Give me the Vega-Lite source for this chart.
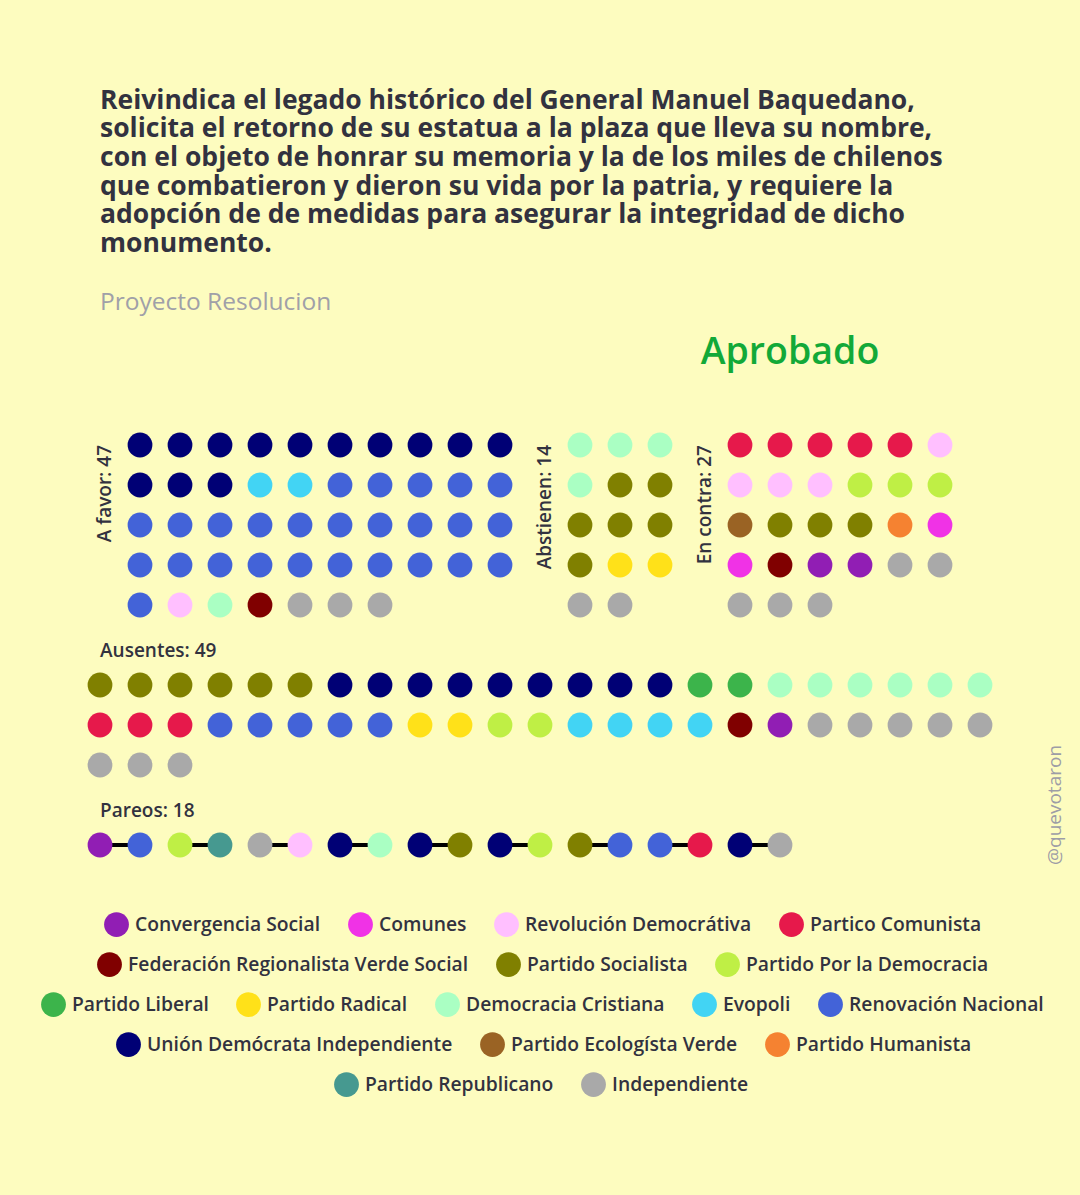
{
  "$schema": "https://vega.github.io/schema/vega-lite/v6.json",
  "width": 1080,
  "height": 870,
  "autosize": "none",
  "padding": {"top": 325, "left": 0, "right": 0, "bottom": 0},
  "background": "#fdfcbf",
  "config": {
    "view": {"stroke": null},
    "font": "Open Sans",
    "legend": {
      "orient": "none",
      "direction": "horizontal",
      "title": null,
      "padding": 0,
      "symbolType": "circle",
      "symbolSize": 615,
      "symbolStrokeWidth": 0,
      "symbolOpacity": 1,
      "labelFont": "Open Sans",
      "labelFontSize": 19.3,
      "labelFontWeight": 600,
      "labelColor": "#32323f",
      "labelOffset": 6,
      "labelLimit": 0,
      "columnPadding": 27
    }
  },
  "title": {
    "text": [
      "Reivindica el legado histórico del General Manuel Baquedano,",
      "solicita el retorno de su estatua a la plaza que lleva su nombre,",
      "con el objeto de honrar su memoria y la de los miles de chilenos",
      "que combatieron y dieron su vida por la patria, y requiere la",
      "adopción de de medidas para asegurar la integridad de dicho",
      "monumento."
    ],
    "subtitle": "Proyecto Resolucion",
    "anchor": "start",
    "frame": "group",
    "dx": 100,
    "font": "Open Sans",
    "fontSize": 26.5,
    "fontWeight": "bold",
    "color": "#32323f",
    "lineHeight": 28.7,
    "subtitleFont": "Open Sans",
    "subtitleFontSize": 24.5,
    "subtitleColor": "#a0a0a8",
    "subtitlePadding": 33,
    "offset": 11
  },
  "datasets": {
    "escanos": [
      {"grupo": "A favor", "col": 1, "fila": 0, "partido": "Unión Demócrata Independiente"},
      {"grupo": "A favor", "col": 2, "fila": 0, "partido": "Unión Demócrata Independiente"},
      {"grupo": "A favor", "col": 3, "fila": 0, "partido": "Unión Demócrata Independiente"},
      {"grupo": "A favor", "col": 4, "fila": 0, "partido": "Unión Demócrata Independiente"},
      {"grupo": "A favor", "col": 5, "fila": 0, "partido": "Unión Demócrata Independiente"},
      {"grupo": "A favor", "col": 6, "fila": 0, "partido": "Unión Demócrata Independiente"},
      {"grupo": "A favor", "col": 7, "fila": 0, "partido": "Unión Demócrata Independiente"},
      {"grupo": "A favor", "col": 8, "fila": 0, "partido": "Unión Demócrata Independiente"},
      {"grupo": "A favor", "col": 9, "fila": 0, "partido": "Unión Demócrata Independiente"},
      {"grupo": "A favor", "col": 10, "fila": 0, "partido": "Unión Demócrata Independiente"},
      {"grupo": "A favor", "col": 1, "fila": 1, "partido": "Unión Demócrata Independiente"},
      {"grupo": "A favor", "col": 2, "fila": 1, "partido": "Unión Demócrata Independiente"},
      {"grupo": "A favor", "col": 3, "fila": 1, "partido": "Unión Demócrata Independiente"},
      {"grupo": "A favor", "col": 4, "fila": 1, "partido": "Evopoli"},
      {"grupo": "A favor", "col": 5, "fila": 1, "partido": "Evopoli"},
      {"grupo": "A favor", "col": 6, "fila": 1, "partido": "Renovación Nacional"},
      {"grupo": "A favor", "col": 7, "fila": 1, "partido": "Renovación Nacional"},
      {"grupo": "A favor", "col": 8, "fila": 1, "partido": "Renovación Nacional"},
      {"grupo": "A favor", "col": 9, "fila": 1, "partido": "Renovación Nacional"},
      {"grupo": "A favor", "col": 10, "fila": 1, "partido": "Renovación Nacional"},
      {"grupo": "A favor", "col": 1, "fila": 2, "partido": "Renovación Nacional"},
      {"grupo": "A favor", "col": 2, "fila": 2, "partido": "Renovación Nacional"},
      {"grupo": "A favor", "col": 3, "fila": 2, "partido": "Renovación Nacional"},
      {"grupo": "A favor", "col": 4, "fila": 2, "partido": "Renovación Nacional"},
      {"grupo": "A favor", "col": 5, "fila": 2, "partido": "Renovación Nacional"},
      {"grupo": "A favor", "col": 6, "fila": 2, "partido": "Renovación Nacional"},
      {"grupo": "A favor", "col": 7, "fila": 2, "partido": "Renovación Nacional"},
      {"grupo": "A favor", "col": 8, "fila": 2, "partido": "Renovación Nacional"},
      {"grupo": "A favor", "col": 9, "fila": 2, "partido": "Renovación Nacional"},
      {"grupo": "A favor", "col": 10, "fila": 2, "partido": "Renovación Nacional"},
      {"grupo": "A favor", "col": 1, "fila": 3, "partido": "Renovación Nacional"},
      {"grupo": "A favor", "col": 2, "fila": 3, "partido": "Renovación Nacional"},
      {"grupo": "A favor", "col": 3, "fila": 3, "partido": "Renovación Nacional"},
      {"grupo": "A favor", "col": 4, "fila": 3, "partido": "Renovación Nacional"},
      {"grupo": "A favor", "col": 5, "fila": 3, "partido": "Renovación Nacional"},
      {"grupo": "A favor", "col": 6, "fila": 3, "partido": "Renovación Nacional"},
      {"grupo": "A favor", "col": 7, "fila": 3, "partido": "Renovación Nacional"},
      {"grupo": "A favor", "col": 8, "fila": 3, "partido": "Renovación Nacional"},
      {"grupo": "A favor", "col": 9, "fila": 3, "partido": "Renovación Nacional"},
      {"grupo": "A favor", "col": 10, "fila": 3, "partido": "Renovación Nacional"},
      {"grupo": "A favor", "col": 1, "fila": 4, "partido": "Renovación Nacional"},
      {"grupo": "A favor", "col": 2, "fila": 4, "partido": "Revolución Democrátiva"},
      {"grupo": "A favor", "col": 3, "fila": 4, "partido": "Democracia Cristiana"},
      {"grupo": "A favor", "col": 4, "fila": 4, "partido": "Federación Regionalista Verde Social"},
      {"grupo": "A favor", "col": 5, "fila": 4, "partido": "Independiente"},
      {"grupo": "A favor", "col": 6, "fila": 4, "partido": "Independiente"},
      {"grupo": "A favor", "col": 7, "fila": 4, "partido": "Independiente"},

      {"grupo": "Abstienen", "col": 12, "fila": 0, "partido": "Democracia Cristiana"},
      {"grupo": "Abstienen", "col": 13, "fila": 0, "partido": "Democracia Cristiana"},
      {"grupo": "Abstienen", "col": 14, "fila": 0, "partido": "Democracia Cristiana"},
      {"grupo": "Abstienen", "col": 12, "fila": 1, "partido": "Democracia Cristiana"},
      {"grupo": "Abstienen", "col": 13, "fila": 1, "partido": "Partido Socialista"},
      {"grupo": "Abstienen", "col": 14, "fila": 1, "partido": "Partido Socialista"},
      {"grupo": "Abstienen", "col": 12, "fila": 2, "partido": "Partido Socialista"},
      {"grupo": "Abstienen", "col": 13, "fila": 2, "partido": "Partido Socialista"},
      {"grupo": "Abstienen", "col": 14, "fila": 2, "partido": "Partido Socialista"},
      {"grupo": "Abstienen", "col": 12, "fila": 3, "partido": "Partido Socialista"},
      {"grupo": "Abstienen", "col": 13, "fila": 3, "partido": "Partido Radical"},
      {"grupo": "Abstienen", "col": 14, "fila": 3, "partido": "Partido Radical"},
      {"grupo": "Abstienen", "col": 12, "fila": 4, "partido": "Independiente"},
      {"grupo": "Abstienen", "col": 13, "fila": 4, "partido": "Independiente"},

      {"grupo": "En contra", "col": 16, "fila": 0, "partido": "Partico Comunista"},
      {"grupo": "En contra", "col": 17, "fila": 0, "partido": "Partico Comunista"},
      {"grupo": "En contra", "col": 18, "fila": 0, "partido": "Partico Comunista"},
      {"grupo": "En contra", "col": 19, "fila": 0, "partido": "Partico Comunista"},
      {"grupo": "En contra", "col": 20, "fila": 0, "partido": "Partico Comunista"},
      {"grupo": "En contra", "col": 21, "fila": 0, "partido": "Revolución Democrátiva"},
      {"grupo": "En contra", "col": 16, "fila": 1, "partido": "Revolución Democrátiva"},
      {"grupo": "En contra", "col": 17, "fila": 1, "partido": "Revolución Democrátiva"},
      {"grupo": "En contra", "col": 18, "fila": 1, "partido": "Revolución Democrátiva"},
      {"grupo": "En contra", "col": 19, "fila": 1, "partido": "Partido Por la Democracia"},
      {"grupo": "En contra", "col": 20, "fila": 1, "partido": "Partido Por la Democracia"},
      {"grupo": "En contra", "col": 21, "fila": 1, "partido": "Partido Por la Democracia"},
      {"grupo": "En contra", "col": 16, "fila": 2, "partido": "Partido Ecologísta Verde"},
      {"grupo": "En contra", "col": 17, "fila": 2, "partido": "Partido Socialista"},
      {"grupo": "En contra", "col": 18, "fila": 2, "partido": "Partido Socialista"},
      {"grupo": "En contra", "col": 19, "fila": 2, "partido": "Partido Socialista"},
      {"grupo": "En contra", "col": 20, "fila": 2, "partido": "Partido Humanista"},
      {"grupo": "En contra", "col": 21, "fila": 2, "partido": "Comunes"},
      {"grupo": "En contra", "col": 16, "fila": 3, "partido": "Comunes"},
      {"grupo": "En contra", "col": 17, "fila": 3, "partido": "Federación Regionalista Verde Social"},
      {"grupo": "En contra", "col": 18, "fila": 3, "partido": "Convergencia Social"},
      {"grupo": "En contra", "col": 19, "fila": 3, "partido": "Convergencia Social"},
      {"grupo": "En contra", "col": 20, "fila": 3, "partido": "Independiente"},
      {"grupo": "En contra", "col": 21, "fila": 3, "partido": "Independiente"},
      {"grupo": "En contra", "col": 16, "fila": 4, "partido": "Independiente"},
      {"grupo": "En contra", "col": 17, "fila": 4, "partido": "Independiente"},
      {"grupo": "En contra", "col": 18, "fila": 4, "partido": "Independiente"},

      {"grupo": "Ausentes", "col": 0, "fila": 6, "partido": "Partido Socialista"},
      {"grupo": "Ausentes", "col": 1, "fila": 6, "partido": "Partido Socialista"},
      {"grupo": "Ausentes", "col": 2, "fila": 6, "partido": "Partido Socialista"},
      {"grupo": "Ausentes", "col": 3, "fila": 6, "partido": "Partido Socialista"},
      {"grupo": "Ausentes", "col": 4, "fila": 6, "partido": "Partido Socialista"},
      {"grupo": "Ausentes", "col": 5, "fila": 6, "partido": "Partido Socialista"},
      {"grupo": "Ausentes", "col": 6, "fila": 6, "partido": "Unión Demócrata Independiente"},
      {"grupo": "Ausentes", "col": 7, "fila": 6, "partido": "Unión Demócrata Independiente"},
      {"grupo": "Ausentes", "col": 8, "fila": 6, "partido": "Unión Demócrata Independiente"},
      {"grupo": "Ausentes", "col": 9, "fila": 6, "partido": "Unión Demócrata Independiente"},
      {"grupo": "Ausentes", "col": 10, "fila": 6, "partido": "Unión Demócrata Independiente"},
      {"grupo": "Ausentes", "col": 11, "fila": 6, "partido": "Unión Demócrata Independiente"},
      {"grupo": "Ausentes", "col": 12, "fila": 6, "partido": "Unión Demócrata Independiente"},
      {"grupo": "Ausentes", "col": 13, "fila": 6, "partido": "Unión Demócrata Independiente"},
      {"grupo": "Ausentes", "col": 14, "fila": 6, "partido": "Unión Demócrata Independiente"},
      {"grupo": "Ausentes", "col": 15, "fila": 6, "partido": "Partido Liberal"},
      {"grupo": "Ausentes", "col": 16, "fila": 6, "partido": "Partido Liberal"},
      {"grupo": "Ausentes", "col": 17, "fila": 6, "partido": "Democracia Cristiana"},
      {"grupo": "Ausentes", "col": 18, "fila": 6, "partido": "Democracia Cristiana"},
      {"grupo": "Ausentes", "col": 19, "fila": 6, "partido": "Democracia Cristiana"},
      {"grupo": "Ausentes", "col": 20, "fila": 6, "partido": "Democracia Cristiana"},
      {"grupo": "Ausentes", "col": 21, "fila": 6, "partido": "Democracia Cristiana"},
      {"grupo": "Ausentes", "col": 22, "fila": 6, "partido": "Democracia Cristiana"},
      {"grupo": "Ausentes", "col": 0, "fila": 7, "partido": "Partico Comunista"},
      {"grupo": "Ausentes", "col": 1, "fila": 7, "partido": "Partico Comunista"},
      {"grupo": "Ausentes", "col": 2, "fila": 7, "partido": "Partico Comunista"},
      {"grupo": "Ausentes", "col": 3, "fila": 7, "partido": "Renovación Nacional"},
      {"grupo": "Ausentes", "col": 4, "fila": 7, "partido": "Renovación Nacional"},
      {"grupo": "Ausentes", "col": 5, "fila": 7, "partido": "Renovación Nacional"},
      {"grupo": "Ausentes", "col": 6, "fila": 7, "partido": "Renovación Nacional"},
      {"grupo": "Ausentes", "col": 7, "fila": 7, "partido": "Renovación Nacional"},
      {"grupo": "Ausentes", "col": 8, "fila": 7, "partido": "Partido Radical"},
      {"grupo": "Ausentes", "col": 9, "fila": 7, "partido": "Partido Radical"},
      {"grupo": "Ausentes", "col": 10, "fila": 7, "partido": "Partido Por la Democracia"},
      {"grupo": "Ausentes", "col": 11, "fila": 7, "partido": "Partido Por la Democracia"},
      {"grupo": "Ausentes", "col": 12, "fila": 7, "partido": "Evopoli"},
      {"grupo": "Ausentes", "col": 13, "fila": 7, "partido": "Evopoli"},
      {"grupo": "Ausentes", "col": 14, "fila": 7, "partido": "Evopoli"},
      {"grupo": "Ausentes", "col": 15, "fila": 7, "partido": "Evopoli"},
      {"grupo": "Ausentes", "col": 16, "fila": 7, "partido": "Federación Regionalista Verde Social"},
      {"grupo": "Ausentes", "col": 17, "fila": 7, "partido": "Convergencia Social"},
      {"grupo": "Ausentes", "col": 18, "fila": 7, "partido": "Independiente"},
      {"grupo": "Ausentes", "col": 19, "fila": 7, "partido": "Independiente"},
      {"grupo": "Ausentes", "col": 20, "fila": 7, "partido": "Independiente"},
      {"grupo": "Ausentes", "col": 21, "fila": 7, "partido": "Independiente"},
      {"grupo": "Ausentes", "col": 22, "fila": 7, "partido": "Independiente"},
      {"grupo": "Ausentes", "col": 0, "fila": 8, "partido": "Independiente"},
      {"grupo": "Ausentes", "col": 1, "fila": 8, "partido": "Independiente"},
      {"grupo": "Ausentes", "col": 2, "fila": 8, "partido": "Independiente"},

      {"grupo": "Pareos", "col": 0, "fila": 10, "par": 1, "partido": "Convergencia Social"},
      {"grupo": "Pareos", "col": 1, "fila": 10, "par": 1, "partido": "Renovación Nacional"},
      {"grupo": "Pareos", "col": 2, "fila": 10, "par": 2, "partido": "Partido Por la Democracia"},
      {"grupo": "Pareos", "col": 3, "fila": 10, "par": 2, "partido": "Partido Republicano"},
      {"grupo": "Pareos", "col": 4, "fila": 10, "par": 3, "partido": "Independiente"},
      {"grupo": "Pareos", "col": 5, "fila": 10, "par": 3, "partido": "Revolución Democrátiva"},
      {"grupo": "Pareos", "col": 6, "fila": 10, "par": 4, "partido": "Unión Demócrata Independiente"},
      {"grupo": "Pareos", "col": 7, "fila": 10, "par": 4, "partido": "Democracia Cristiana"},
      {"grupo": "Pareos", "col": 8, "fila": 10, "par": 5, "partido": "Unión Demócrata Independiente"},
      {"grupo": "Pareos", "col": 9, "fila": 10, "par": 5, "partido": "Partido Socialista"},
      {"grupo": "Pareos", "col": 10, "fila": 10, "par": 6, "partido": "Unión Demócrata Independiente"},
      {"grupo": "Pareos", "col": 11, "fila": 10, "par": 6, "partido": "Partido Por la Democracia"},
      {"grupo": "Pareos", "col": 12, "fila": 10, "par": 7, "partido": "Partido Socialista"},
      {"grupo": "Pareos", "col": 13, "fila": 10, "par": 7, "partido": "Renovación Nacional"},
      {"grupo": "Pareos", "col": 14, "fila": 10, "par": 8, "partido": "Renovación Nacional"},
      {"grupo": "Pareos", "col": 15, "fila": 10, "par": 8, "partido": "Partico Comunista"},
      {"grupo": "Pareos", "col": 16, "fila": 10, "par": 9, "partido": "Unión Demócrata Independiente"},
      {"grupo": "Pareos", "col": 17, "fila": 10, "par": 9, "partido": "Independiente"}
    ],
    "resultado": [{"resultado": "Aprobado"}],
    "firma": [{"firma": "@quevotaron"}]
  },
  "resolve": {"scale": {"color": "independent"}, "legend": {"color": "independent"}},
  "layer": [
    {
      "data": {"name": "escanos"},
      "transform": [{"filter": "datum.grupo === 'Pareos'"}],
      "mark": {"type": "line", "color": "black", "strokeWidth": 4},
      "encoding": {
        "x": {"field": "col", "type": "quantitative", "axis": null, "scale": {"domain": [-2.5, 24.5], "nice": false, "zero": false}},
        "y": {"field": "fila", "type": "quantitative", "axis": null, "scale": {"domain": [-3, 18.75], "nice": false, "zero": false, "reverse": true}},
        "detail": {"field": "par", "type": "nominal"}
      }
    },
    {
      "data": {"name": "escanos"},
      "mark": {"type": "circle", "size": 615, "opacity": 1},
      "encoding": {
        "x": {"field": "col", "type": "quantitative", "axis": null, "scale": {"domain": [-2.5, 24.5], "nice": false, "zero": false}},
        "y": {"field": "fila", "type": "quantitative", "axis": null, "scale": {"domain": [-3, 18.75], "nice": false, "zero": false, "reverse": true}},
        "color": {
          "field": "partido",
          "type": "nominal",
          "legend": null,
          "scale": {
            "domain": ["Convergencia Social", "Comunes", "Revolución Democrátiva", "Partico Comunista", "Federación Regionalista Verde Social", "Partido Socialista", "Partido Por la Democracia", "Partido Liberal", "Partido Radical", "Democracia Cristiana", "Evopoli", "Renovación Nacional", "Unión Demócrata Independiente", "Partido Ecologísta Verde", "Partido Humanista", "Partido Republicano", "Independiente"],
            "range": ["#911eb4", "#f032e6", "#ffbfff", "#e6194b", "#800000", "#808000", "#bfef45", "#3cb44b", "#ffe119", "#aaffc3", "#42d4f4", "#4363d8", "#000075", "#9a6324", "#f58231", "#469990", "#a9a9a9"]
          }
        }
      }
    },
    {
      "data": {"name": "escanos"},
      "transform": [
        {"filter": "datum.grupo === 'A favor' || datum.grupo === 'Abstienen' || datum.grupo === 'En contra'"},
        {"aggregate": [{"op": "min", "field": "col", "as": "c0"}, {"op": "min", "field": "fila", "as": "f0"}, {"op": "count", "as": "n"}], "groupby": ["grupo"]},
        {"calculate": "datum.grupo + ': ' + datum.n", "as": "etiqueta"},
        {"calculate": "datum.c0 - 0.875", "as": "cx"}
      ],
      "mark": {"type": "text", "angle": 270, "align": "right", "baseline": "middle", "fontSize": 19, "fontWeight": 600, "color": "#32323f"},
      "encoding": {
        "x": {"field": "cx", "type": "quantitative", "axis": null, "scale": {"domain": [-2.5, 24.5], "nice": false, "zero": false}},
        "y": {"field": "f0", "type": "quantitative", "axis": null, "scale": {"domain": [-3, 18.75], "nice": false, "zero": false, "reverse": true}},
        "text": {"field": "etiqueta", "type": "nominal"}
      }
    },
    {
      "data": {"name": "escanos"},
      "transform": [
        {"filter": "datum.grupo === 'Ausentes' || datum.grupo === 'Pareos'"},
        {"aggregate": [{"op": "min", "field": "col", "as": "c0"}, {"op": "min", "field": "fila", "as": "f0"}, {"op": "count", "as": "n"}], "groupby": ["grupo"]},
        {"calculate": "datum.grupo + ': ' + datum.n", "as": "etiqueta"},
        {"calculate": "datum.f0 - 0.85", "as": "fy"}
      ],
      "mark": {"type": "text", "align": "left", "baseline": "middle", "fontSize": 19, "fontWeight": 600, "color": "#32323f"},
      "encoding": {
        "x": {"field": "c0", "type": "quantitative", "axis": null, "scale": {"domain": [-2.5, 24.5], "nice": false, "zero": false}},
        "y": {"field": "fy", "type": "quantitative", "axis": null, "scale": {"domain": [-3, 18.75], "nice": false, "zero": false, "reverse": true}},
        "text": {"field": "etiqueta", "type": "nominal"}
      }
    },
    {
      "data": {"name": "resultado"},
      "mark": {"type": "text", "align": "center", "baseline": "middle", "fontSize": 37.5, "fontWeight": 600, "color": "#12a938"},
      "encoding": {
        "x": {"datum": 17.25, "type": "quantitative", "axis": null, "scale": {"domain": [-2.5, 24.5], "nice": false, "zero": false}},
        "y": {"datum": -2.3, "type": "quantitative", "axis": null, "scale": {"domain": [-3, 18.75], "nice": false, "zero": false, "reverse": true}},
        "text": {"field": "resultado", "type": "nominal"}
      }
    },
    {
      "data": {"name": "firma"},
      "mark": {"type": "text", "angle": 270, "align": "center", "baseline": "middle", "fontSize": 19, "color": "#9d9da6"},
      "encoding": {
        "x": {"datum": 23.875, "type": "quantitative", "axis": null, "scale": {"domain": [-2.5, 24.5], "nice": false, "zero": false}},
        "y": {"datum": 9, "type": "quantitative", "axis": null, "scale": {"domain": [-3, 18.75], "nice": false, "zero": false, "reverse": true}},
        "text": {"field": "firma", "type": "nominal"}
      }
    },
    {
      "data": {"name": "escanos"},
      "transform": [{"filter": "false"}],
      "mark": {"type": "circle", "size": 615, "opacity": 1},
      "encoding": {
        "color": {
          "field": "partido", "type": "nominal",
          "scale": {"domain": ["Convergencia Social", "Comunes", "Revolución Democrátiva", "Partico Comunista"], "range": ["#911eb4", "#f032e6", "#ffbfff", "#e6194b"]},
          "legend": {"orient": "none", "legendX": 104, "legendY": 587, "columns": 4}
        }
      }
    },
    {
      "data": {"name": "escanos"},
      "transform": [{"filter": "false"}],
      "mark": {"type": "circle", "size": 615, "opacity": 1},
      "encoding": {
        "color": {
          "field": "partido", "type": "nominal",
          "scale": {"domain": ["Federación Regionalista Verde Social", "Partido Socialista", "Partido Por la Democracia"], "range": ["#800000", "#808000", "#bfef45"]},
          "legend": {"orient": "none", "legendX": 97, "legendY": 627, "columns": 3}
        }
      }
    },
    {
      "data": {"name": "escanos"},
      "transform": [{"filter": "false"}],
      "mark": {"type": "circle", "size": 615, "opacity": 1},
      "encoding": {
        "color": {
          "field": "partido", "type": "nominal",
          "scale": {"domain": ["Partido Liberal", "Partido Radical", "Democracia Cristiana", "Evopoli", "Renovación Nacional"], "range": ["#3cb44b", "#ffe119", "#aaffc3", "#42d4f4", "#4363d8"]},
          "legend": {"orient": "none", "legendX": 41, "legendY": 667, "columns": 5}
        }
      }
    },
    {
      "data": {"name": "escanos"},
      "transform": [{"filter": "false"}],
      "mark": {"type": "circle", "size": 615, "opacity": 1},
      "encoding": {
        "color": {
          "field": "partido", "type": "nominal",
          "scale": {"domain": ["Unión Demócrata Independiente", "Partido Ecologísta Verde", "Partido Humanista"], "range": ["#000075", "#9a6324", "#f58231"]},
          "legend": {"orient": "none", "legendX": 116, "legendY": 707, "columns": 3}
        }
      }
    },
    {
      "data": {"name": "escanos"},
      "transform": [{"filter": "false"}],
      "mark": {"type": "circle", "size": 615, "opacity": 1},
      "encoding": {
        "color": {
          "field": "partido", "type": "nominal",
          "scale": {"domain": ["Partido Republicano", "Independiente"], "range": ["#469990", "#a9a9a9"]},
          "legend": {"orient": "none", "legendX": 334, "legendY": 747, "columns": 2}
        }
      }
    }
  ]
}
